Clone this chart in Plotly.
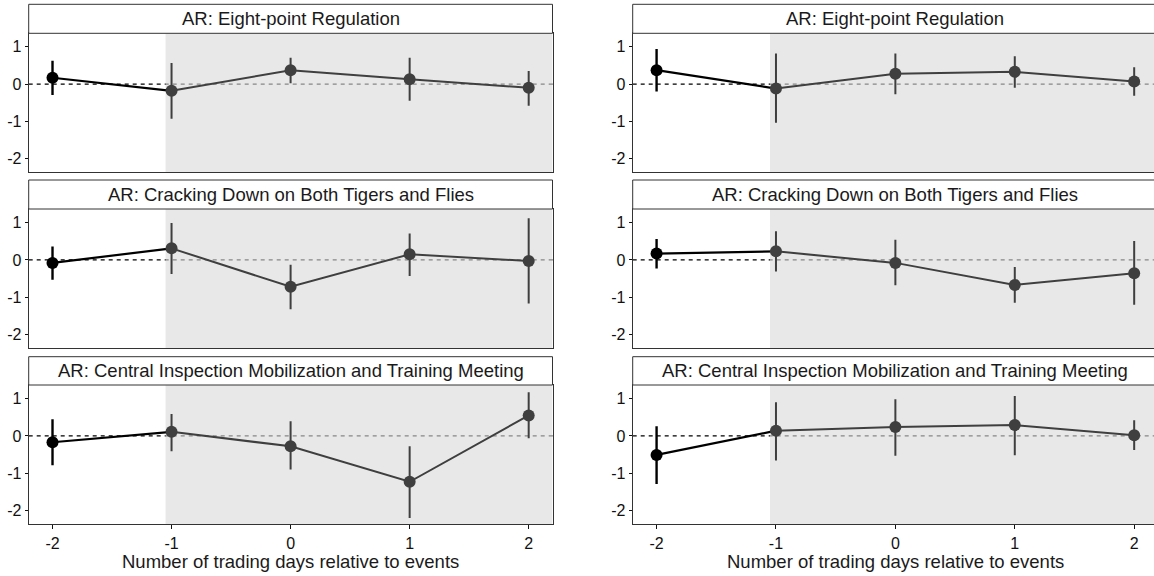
import plotly.graph_objects as go

# ---------------- data ----------------
DAYS = [-2, -1, 0, 1, 2]
DAY_LABELS = ["-2", "-1", "0", "1", "2"]
Y_TICKS = [-2, -1, 0, 1]
Y_LABELS = ["-2", "-1", "0", "1"]
EVENT_TITLES = [
    "AR: Eight-point Regulation",
    "AR: Cracking Down on Both Tigers and Flies",
    "AR: Central Inspection Mobilization and Training Meeting",
]
X_TITLE = "Number of trading days relative to events"

LEFT_EIGHT_EST = [0.17, -0.18, 0.375, 0.13, -0.10]
LEFT_EIGHT_LO = [-0.29, -0.93, 0.02, -0.45, -0.58]
LEFT_EIGHT_HI = [0.63, 0.57, 0.71, 0.71, 0.35]

RIGHT_EIGHT_EST = [0.375, -0.12, 0.28, 0.33, 0.07]
RIGHT_EIGHT_LO = [-0.20, -1.04, -0.27, -0.10, -0.31]
RIGHT_EIGHT_HI = [0.94, 0.82, 0.82, 0.75, 0.45]

LEFT_TIGER_EST = [-0.08, 0.31, -0.72, 0.15, -0.03]
LEFT_TIGER_LO = [-0.53, -0.38, -1.32, -0.43, -1.17]
LEFT_TIGER_HI = [0.36, 0.99, -0.13, 0.71, 1.12]

RIGHT_TIGER_EST = [0.17, 0.23, -0.08, -0.67, -0.36]
RIGHT_TIGER_LO = [-0.23, -0.31, -0.68, -1.15, -1.20]
RIGHT_TIGER_HI = [0.56, 0.77, 0.54, -0.19, 0.51]

LEFT_CIMT_EST = [-0.17, 0.11, -0.28, -1.23, 0.55]
LEFT_CIMT_LO = [-0.79, -0.41, -0.90, -2.20, -0.06]
LEFT_CIMT_HI = [0.45, 0.59, 0.39, -0.28, 1.17]

RIGHT_CIMT_EST = [-0.51, 0.14, 0.24, 0.29, 0.02]
RIGHT_CIMT_LO = [-1.29, -0.66, -0.53, -0.52, -0.38]
RIGHT_CIMT_HI = [0.26, 0.90, 0.98, 1.07, 0.42]

SHADE_START = -1.05

# ---------------- layout geometry ----------------
W, H = 1154, 576
FONT = "Liberation Sans, Arial, sans-serif"
DARK = "#3f3f3f"
BORDER = "#333333"

def fx(px):
    return px / W

def fy(py):
    return 1 - py / H

COLS = [
    {"x0": 28.7, "x1": 552.5, "range": [-2.2, 2.2], "center": 290.6},
    {"x0": 632.7, "x1": 1154.0, "range": [-2.2, 2.166], "center": 895.1},
]
ROWS = [
    {"strip": (4.3, 33.3), "plot": (33.3, 172.3)},
    {"strip": (180.0, 209.0), "plot": (209.0, 348.3)},
    {"strip": (356.7, 385.0), "plot": (385.0, 524.3)},
]
Y_RANGE = [-2.37, 1.365]

PANELS = [
    (0, 0, LEFT_EIGHT_EST, LEFT_EIGHT_LO, LEFT_EIGHT_HI),
    (0, 1, RIGHT_EIGHT_EST, RIGHT_EIGHT_LO, RIGHT_EIGHT_HI),
    (1, 0, LEFT_TIGER_EST, LEFT_TIGER_LO, LEFT_TIGER_HI),
    (1, 1, RIGHT_TIGER_EST, RIGHT_TIGER_LO, RIGHT_TIGER_HI),
    (2, 0, LEFT_CIMT_EST, LEFT_CIMT_LO, LEFT_CIMT_HI),
    (2, 1, RIGHT_CIMT_EST, RIGHT_CIMT_LO, RIGHT_CIMT_HI),
]

fig = go.Figure()
layout = dict(
    width=W, height=H, autosize=False,
    margin=dict(l=0, r=0, t=0, b=0),
    paper_bgcolor="white", plot_bgcolor="white",
    showlegend=False,
    font=dict(family=FONT, color="#1a1a1a"),
)
shapes = []
annotations = []

for i, (r, c, est, lo, hi) in enumerate(PANELS):
    n = i + 1
    xa = "x" if n == 1 else f"x{n}"
    ya = "y" if n == 1 else f"y{n}"
    col = COLS[c]
    row = ROWS[r]
    bottom = (r == 2)

    layout["xaxis" if n == 1 else f"xaxis{n}"] = dict(
        domain=[fx(col["x0"]), fx(col["x1"])],
        range=col["range"], anchor=ya,
        showgrid=False, zeroline=False,
        showline=True, mirror=True, linecolor=BORDER, linewidth=1,
        tickvals=DAYS if bottom else [], ticktext=DAY_LABELS if bottom else [],
        ticks="outside" if bottom else "", ticklen=4, tickwidth=1, tickcolor="#111111",
        showticklabels=bottom,
        tickfont=dict(family=FONT, size=16, color="#111111"),
        fixedrange=True,
    )
    layout["yaxis" if n == 1 else f"yaxis{n}"] = dict(
        domain=[fy(row["plot"][1]), fy(row["plot"][0])],
        range=Y_RANGE, anchor=xa,
        showgrid=False, zeroline=False,
        showline=True, mirror=True, linecolor=BORDER, linewidth=1,
        tickvals=Y_TICKS, ticktext=Y_LABELS,
        ticks="outside", ticklen=3, tickwidth=1.2, tickcolor="#111111",
        tickfont=dict(family=FONT, size=16, color="#111111"),
        fixedrange=True,
    )

    # dashed zero line (below shading)
    shapes.append(dict(
        type="line", xref=f"{xa} domain", yref=ya, x0=0, x1=1, y0=0, y1=0,
        line=dict(color="#000000", width=1.2, dash="4px,4px"), layer="below",
    ))
    # shaded post-event region
    shapes.append(dict(
        type="rect", xref=xa, yref=f"{ya} domain",
        x0=SHADE_START, x1=col["range"][1], y0=0, y1=1,
        fillcolor="rgba(218,218,218,0.62)", line=dict(width=0), layer="below",
    ))
    # strip
    s0, s1 = row["strip"]
    shapes.append(dict(
        type="rect", xref="paper", yref="paper",
        x0=fx(col["x0"]), x1=fx(col["x1"] if c == 0 else 1157.6),
        y0=fy(s1), y1=fy(s0),
        fillcolor="white", line=dict(color=BORDER, width=1),
    ))
    annotations.append(dict(
        xref="paper", yref="paper", x=fx(col["center"]), y=fy((s0 + s1) / 2),
        text=EVENT_TITLES[r], showarrow=False, xanchor="center", yanchor="middle",
        font=dict(family=FONT, size=18.5, color="#1a1a1a"),
    ))

    err_plus = [h - e for h, e in zip(hi, est)]
    err_minus = [e - l for e, l in zip(est, lo)]

    # pre-event segment (black)
    fig.add_trace(go.Scatter(
        x=DAYS[:2], y=est[:2], xaxis=xa, yaxis=ya, mode="lines",
        line=dict(color="black", width=2.2), hoverinfo="skip",
    ))
    # post-event points (dark grey)
    fig.add_trace(go.Scatter(
        x=DAYS[1:], y=est[1:], xaxis=xa, yaxis=ya, mode="lines+markers",
        line=dict(color=DARK, width=2),
        marker=dict(color=DARK, size=12),
        error_y=dict(type="data", array=err_plus[1:], arrayminus=err_minus[1:],
                     symmetric=False, color=DARK, thickness=2, width=0),
    ))
    # first point (black)
    fig.add_trace(go.Scatter(
        x=DAYS[:1], y=est[:1], xaxis=xa, yaxis=ya, mode="markers",
        marker=dict(color="black", size=12),
        error_y=dict(type="data", array=err_plus[:1], arrayminus=err_minus[:1],
                     symmetric=False, color="black", thickness=2.4, width=0),
    ))

for col in COLS:
    annotations.append(dict(
        xref="paper", yref="paper", x=fx(col["center"]), y=fy(561),
        text=X_TITLE, showarrow=False, xanchor="center", yanchor="middle",
        font=dict(family=FONT, size=18.5, color="#1a1a1a"),
    ))

layout["shapes"] = shapes
layout["annotations"] = annotations
fig.update_layout(**layout)
fig.write_html(
    "out.html",
    config={"displayModeBar": False},
    post_script="document.body.style.margin='0px';document.body.style.overflow='hidden';",
)
